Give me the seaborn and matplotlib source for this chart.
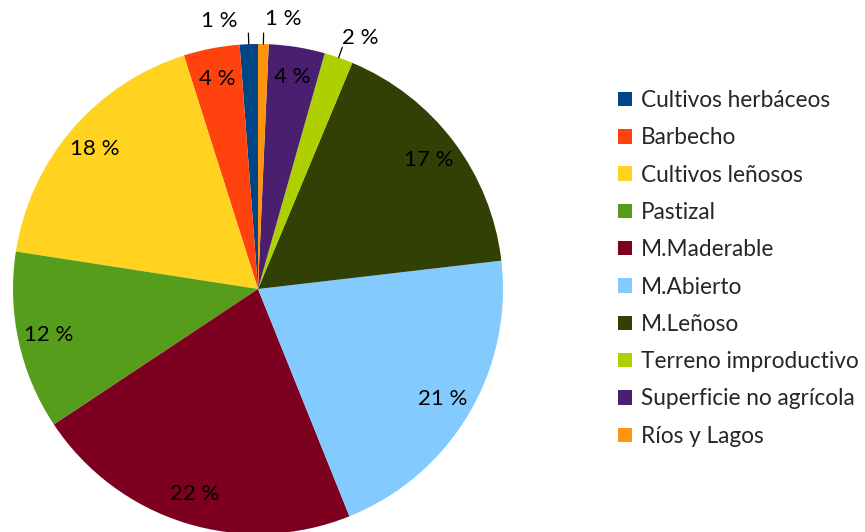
import numpy as np
import matplotlib
matplotlib.use("Agg")
import matplotlib.pyplot as plt
import seaborn as sns

categories = ["Cultivos herbáceos", "Barbecho", "Cultivos leñosos", "Pastizal",
              "M.Maderable", "M.Abierto", "M.Leñoso", "Terreno improductivo",
              "Superficie no agrícola", "Ríos y Lagos"]
values = [1.2, 3.7, 17.7, 11.8, 21.8, 20.8, 16.9, 1.9, 3.7, 0.7]
colors = ["#004586", "#ff420e", "#ffd320", "#579d1c", "#7e0021",
          "#83caff", "#314004", "#aecf00", "#4b1f6f", "#ff950e"]
outside = [True, False, False, False, False, False, False, True, False, True]

sns.set_theme(style="white")
plt.rcParams["font.family"] = ["Lato", "DejaVu Sans"]
palette = sns.color_palette(colors)

W, H = 865, 532
fig = plt.figure(figsize=(W / 100, H / 100), dpi=100)
cx, cy, R = 258, 289, 245
ax = fig.add_axes([(cx - R) / W, (H - cy - R) / H, 2 * R / W, 2 * R / H])

wedges, _ = ax.pie(values, colors=palette, startangle=90, counterclock=True,
                   wedgeprops=dict(linewidth=0))
ax.set_xlim(-1, 1)
ax.set_ylim(-1, 1)
ax.set_axis_off()

total = sum(values)
nudge = {0: 6.0, 7: -3.0, 9: -4.0}
fs = 16
for i, (w, v) in enumerate(zip(wedges, values)):
    mid = np.deg2rad((w.theta1 + w.theta2) / 2)
    txt = f"{round(v / total * 100):.0f} %"
    if outside[i]:
        ax.plot([np.cos(mid) * 1.0, np.cos(mid) * 1.045],
                [np.sin(mid) * 1.0, np.sin(mid) * 1.045],
                color="black", lw=0.9, clip_on=False)
        a = mid + np.deg2rad(nudge.get(i, 0))
        ax.text(np.cos(a) * 1.105, np.sin(a) * 1.105, txt, ha="center", va="center",
                fontsize=fs, color="black", clip_on=False)
    else:
        ax.text(np.cos(mid) * 0.875, np.sin(mid) * 0.875, txt, ha="center", va="center",
                fontsize=fs, color="black")

lfs = 16.3
fig.legend(wedges, categories, loc="upper left",
           bbox_to_anchor=(618 / W, 1 - 90 / H), frameon=False,
           fontsize=lfs, handlelength=0.6, handleheight=0.6, handletextpad=0.42,
           labelspacing=0.72, borderpad=0, borderaxespad=0)

fig.savefig("out.png", dpi=100)
